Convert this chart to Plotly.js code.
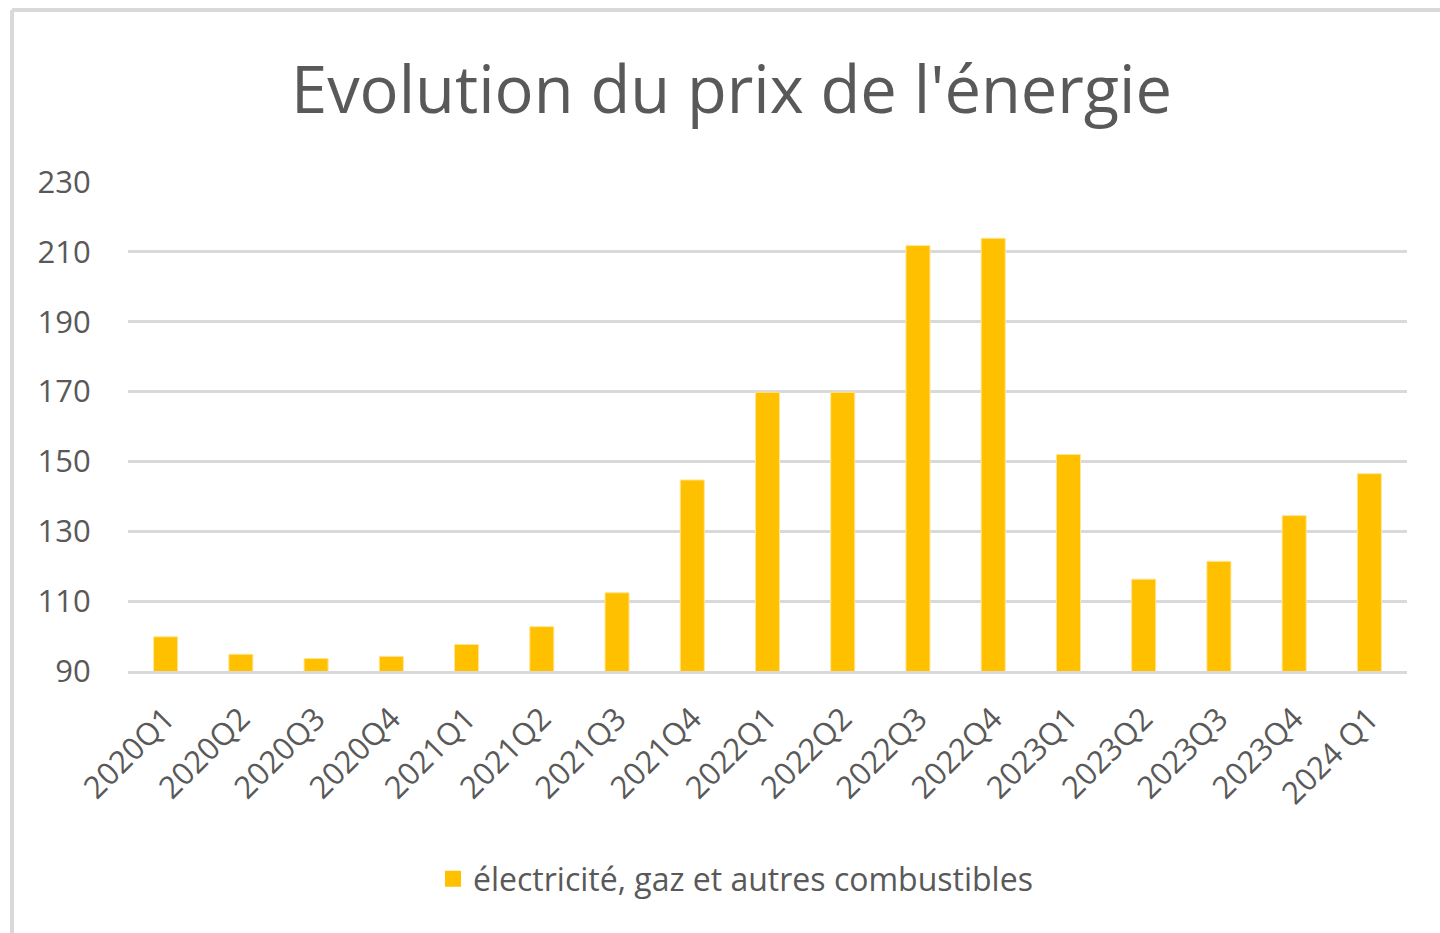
<!DOCTYPE html>
<html>
<head>
<meta charset="utf-8">
<script src="https://cdn.plot.ly/plotly-3.0.1.min.js"></script>
<style>html,body{margin:0;padding:0;background:#fff;}#chart{width:1440px;height:933px;}</style>
</head>
<body>
<div id="chart"></div>
<script>
const categories = ["2020Q1","2020Q2","2020Q3","2020Q4","2021Q1","2021Q2","2021Q3","2021Q4","2022Q1","2022Q2","2022Q3","2022Q4","2023Q1","2023Q2","2023Q3","2023Q4","2024 Q1"];
const values = [99.8, 94.8, 93.6, 94.2, 97.6, 102.7, 112.4, 144.7, 169.8, 169.8, 211.8, 213.9, 152.0, 116.3, 121.4, 134.5, 146.5];
const seriesName = "électricité, gaz et autres combustibles";
const chartTitle = "Evolution du prix de l'énergie";
const yTicks = [90, 110, 130, 150, 170, 190, 210, 230];

const font = "Open Sans, Noto Sans, sans-serif";
const txt = "#595959";
const barColor = "#FFC000";

const trace = {
  type: "bar",
  x: categories,
  y: values,
  name: seriesName,
  marker: {color: barColor, line: {color: "#FFE699", width: 1}},
  showlegend: false
};

// legend entry with a larger square swatch
const legendTrace = {
  type: "scatter",
  mode: "markers",
  x: [categories[0]],
  y: [null],
  name: seriesName,
  marker: {symbol: "square", size: 18, color: barColor},
  showlegend: true,
  hoverinfo: "skip"
};

const layout = {
  width: 1440, height: 933,
  margin: {l: 128, r: 33, t: 182, b: 262},
  paper_bgcolor: "#ffffff",
  plot_bgcolor: "#ffffff",
  bargap: 0.68,
  title: {text: chartTitle, font: {family: font, size: 65, color: txt}, x: 0.508, xanchor: "center", y: 0.903, yanchor: "middle"},
  xaxis: {
    type: "category",
    range: [-0.5, categories.length - 0.5],
    autorange: false,
    tickangle: -45,
    tickfont: {family: font, size: 31, color: txt},
    showgrid: false,
    showline: true, linecolor: "#d9d9d9", linewidth: 3,
    ticks: "outside", ticklen: 14, tickcolor: "rgba(0,0,0,0)"
  },
  yaxis: {
    range: [90, 230],
    autorange: false,
    tickvals: yTicks,
    ticktext: yTicks.map(String),
    tickfont: {family: font, size: 31, color: txt},
    showgrid: true, gridcolor: "#d9d9d9", gridwidth: 3,
    zeroline: false, showline: false,
    ticks: "outside", ticklen: 30, tickcolor: "rgba(0,0,0,0)"
  },
  legend: {
    orientation: "h",
    x: 0.475, xanchor: "center",
    y: -0.425, yanchor: "middle",
    font: {family: font, size: 32, color: txt},
    itemwidth: 30,
    itemsizing: "trace"
  },
  shapes: [
    {type: "line", xref: "paper", yref: "paper", x0: -0.0907, x1: 1.1, y0: 1.3517, y1: 1.3517, line: {color: "#d9d9d9", width: 4}},
    {type: "line", xref: "paper", yref: "paper", x0: -0.0907, x1: -0.0907, y0: -0.6, y1: 1.3517, line: {color: "#d9d9d9", width: 4}}
  ]
};

Plotly.newPlot("chart", [trace, legendTrace], layout, {displayModeBar: false, staticPlot: true});
</script>
</body>
</html>
